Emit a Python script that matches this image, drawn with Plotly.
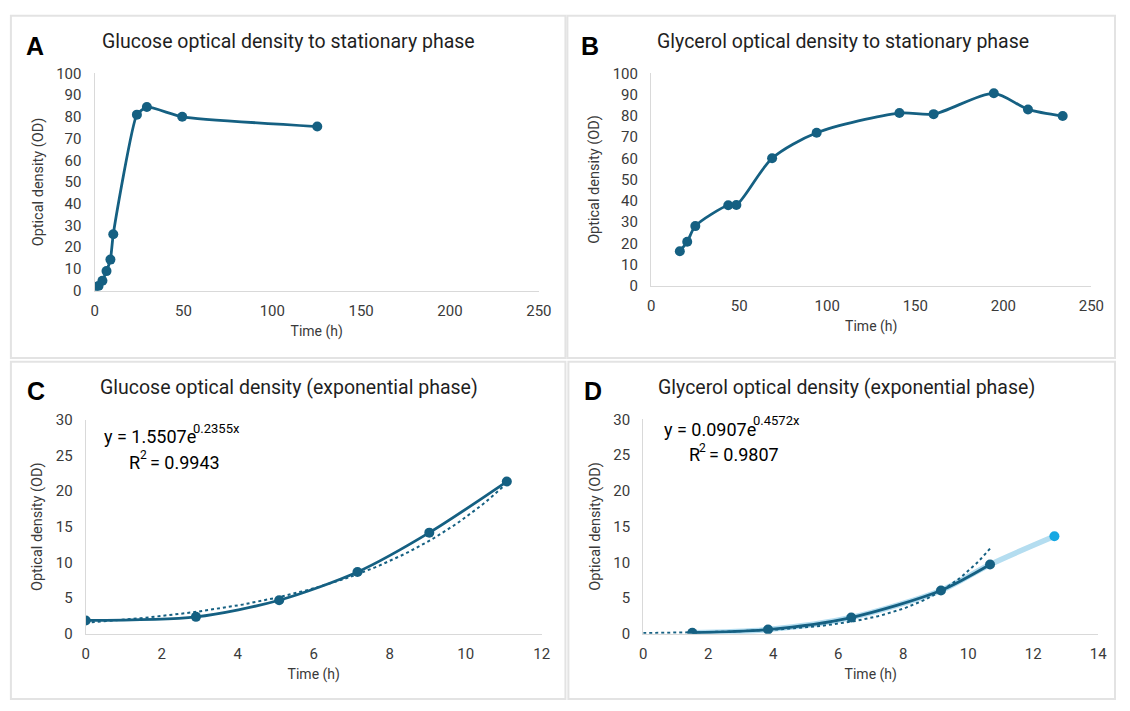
import numpy as np
import plotly.graph_objects as go

W, H = 1130, 711

# ---------------- data ----------------
# A: glucose to stationary phase
glu_stat_t = [0, 2.2, 4.4, 6.7, 8.9, 10.5, 23.8, 29.4, 49.3, 125.3]
glu_stat_od = [1.6, 2.2, 4.6, 9.0, 14.3, 26.0, 81.0, 84.5, 80.0, 75.5]
# B: glycerol to stationary phase
gly_stat_t = [16.3, 20.5, 25.1, 43.8, 48.4, 68.7, 94.0, 141.0, 160.4, 194.6, 214.0, 233.7]
gly_stat_od = [16.3, 20.7, 28.1, 37.9, 38.0, 60.0, 72.0, 81.3, 80.8, 90.6, 83.0, 79.9]
# C: glucose exponential phase
glu_exp_t = [0, 2.9, 5.09, 7.15, 9.04, 11.08]
glu_exp_od = [1.87, 2.37, 4.7, 8.66, 14.18, 21.34]
glu_fit_a, glu_fit_b, glu_r2 = 1.5507, 0.2355, 0.9943
# D: glycerol exponential phase
gly_exp_t = [1.51, 3.84, 6.4, 9.16, 10.67, 12.65]
gly_exp_od = [0.14, 0.59, 2.27, 6.05, 9.68, 13.64]
gly_fit_a, gly_fit_b, gly_r2 = 0.0907, 0.4572, 0.9807

titles = ["Glucose optical density to stationary phase",
          "Glycerol optical density to stationary phase",
          "Glucose optical density (exponential phase)",
          "Glycerol optical density (exponential phase)"]
letters = ["A", "B", "C", "D"]

DARK = "#156082"
LIGHT_LINE = "#B4DDF0"
LIGHT_MK = "#17A8E3"
GRAY = "#D9D9D9"
TXT = "#3A3A3A"
FONT = "Roboto"


def fx(px):
    return px / W


def fy(py):
    return 1 - py / H


fig = go.Figure()

# ----- traces -----
fig.add_trace(go.Scatter(x=glu_stat_t, y=glu_stat_od, mode="lines+markers",
                         line=dict(color=DARK, width=2.8, shape="spline", smoothing=0.5),
                         marker=dict(color=DARK, size=10), xaxis="x", yaxis="y"))
fig.add_trace(go.Scatter(x=gly_stat_t, y=gly_stat_od, mode="lines+markers",
                         line=dict(color=DARK, width=2.8, shape="spline", smoothing=0.8),
                         marker=dict(color=DARK, size=10), xaxis="x2", yaxis="y2"))

# C fit (trendline from displayed equation)
glu_fit_x = np.linspace(0, glu_exp_t[-1], 100)
fig.add_trace(go.Scatter(x=glu_fit_x, y=glu_fit_a * np.exp(glu_fit_b * glu_fit_x), mode="lines",
                         line=dict(color=DARK, width=2, dash="dot"), xaxis="x3", yaxis="y3"))
fig.add_trace(go.Scatter(x=glu_exp_t, y=glu_exp_od, mode="lines+markers",
                         line=dict(color=DARK, width=2.8, shape="spline", smoothing=0.8),
                         marker=dict(color=DARK, size=10), xaxis="x3", yaxis="y3"))

# D
fig.add_trace(go.Scatter(x=gly_exp_t, y=gly_exp_od, mode="lines",
                         line=dict(color=LIGHT_LINE, width=5.5, shape="spline", smoothing=0.8),
                         xaxis="x4", yaxis="y4"))
gly_fit_x = np.linspace(0, gly_exp_t[-2], 100)
fig.add_trace(go.Scatter(x=gly_fit_x, y=gly_fit_a * np.exp(gly_fit_b * gly_fit_x), mode="lines",
                         line=dict(color=DARK, width=2, dash="dot"), xaxis="x4", yaxis="y4"))
fig.add_trace(go.Scatter(x=gly_exp_t[:-1], y=gly_exp_od[:-1], mode="lines+markers",
                         line=dict(color=DARK, width=2.8, shape="spline", smoothing=0.8),
                         marker=dict(color=DARK, size=10), xaxis="x4", yaxis="y4"))
fig.add_trace(go.Scatter(x=gly_exp_t[-1:], y=gly_exp_od[-1:], mode="markers",
                         marker=dict(color=LIGHT_MK, size=10), xaxis="x4", yaxis="y4"))

# ----- axes -----
# (x0px, x1px, ybottom_px, ytop_px, xrange, xdtick, yrange, ydtick)
panels = [
    (92, 543, 289, 66, [0, 250], 50, [0, 100], 10),
    (657, 1104, 284, 66, [0, 250], 50, [0, 100], 10),
    (83, 546, 641, 421.5, [0, 12], 2, [0, 30], 5),
    (649, 1111, 641, 421, [0, 14], 2, [0, 30], 5),
]

layout = {}
for i, (x0, x1, yb, yt, xr, xd, yr, yd) in enumerate(panels):
    sfx = "" if i == 0 else str(i + 1)
    common = dict(showgrid=False, zeroline=False, showline=True, linecolor=GRAY, linewidth=1.3,
                  ticks="outside", tickcolor="rgba(0,0,0,0)",
                  tickfont=dict(family=FONT, size=15, color=TXT), fixedrange=True)
    layout["xaxis" + sfx] = dict(common, domain=[fx(x0), fx(x1)], range=xr, dtick=xd, tick0=0,
                                 anchor="y" + sfx, ticklen=6,
                                 title=dict(text="Time (h)", font=dict(family=FONT, size=14, color=TXT),
                                            standoff=7))
    layout["yaxis" + sfx] = dict(common, domain=[fy(yb), fy(yt)], range=yr, dtick=yd, tick0=0,
                                 anchor="x" + sfx, ticklen=9,
                                 title=dict(text="Optical density (OD)",
                                            font=dict(family=FONT, size=14.5, color=TXT), standoff=9))

fig.update_layout(**layout)

# ----- panel boxes -----
boxes = [(7, 7, 570, 358), (572, 7, 1128, 358), (7, 362, 570, 708), (573, 362, 1128, 708)]
for (l, t, r, b) in boxes:
    fig.add_shape(type="rect", xref="paper", yref="paper", x0=fx(l), x1=fx(r), y0=fy(b), y1=fy(t),
                  line=dict(color="#E3E3E3", width=2), layer="below")


def note(px, py, text, size, anchor="left", color="black", family=FONT, weight="normal"):
    fig.add_annotation(x=fx(px), y=fy(py), xref="paper", yref="paper", text=text, showarrow=False,
                       xanchor=anchor, yanchor="middle",
                       font=dict(family=family, size=size, color=color, weight=weight))


# ----- titles, letters -----
title_pos = [(289, 33), (852, 33), (289, 388), (855, 388)]
letter_pos = [(31, 38), (595, 38), (32, 392), (598, 392)]
for i in range(4):
    note(title_pos[i][0], title_pos[i][1], titles[i], 19.5, anchor="center", color="#1F1F1F")
    note(letter_pos[i][0], letter_pos[i][1], letters[i], 25, anchor="center",
         family="Liberation Sans Narrow, Arial Narrow, Liberation Sans", weight="bold")

# ----- equations (main text + superscripts) -----
eq_specs = [
    # (x_left, y_mid, a, b, r2)
    (100, 439, glu_fit_a, glu_fit_b, glu_r2),
    (668, 431, gly_fit_a, gly_fit_b, gly_r2),
]
for (x0, y0, a, b, r2) in eq_specs:
    note(x0, y0, f"y = {a:.4f}e", 18)
    note(x0 + 90, y0 - 9, f"{b:.4f}x", 13)
    note(x0 + 25, y0 + 26, "R", 18)
    note(x0 + 36, y0 + 19, "2", 12)
    note(x0 + 46, y0 + 26, f"= {r2:.4f}", 18)

fig.update_layout(width=W, height=H, margin=dict(l=0, r=0, t=0, b=0), showlegend=False,
                  paper_bgcolor="white", plot_bgcolor="white")

fig.write_html("out.html")
